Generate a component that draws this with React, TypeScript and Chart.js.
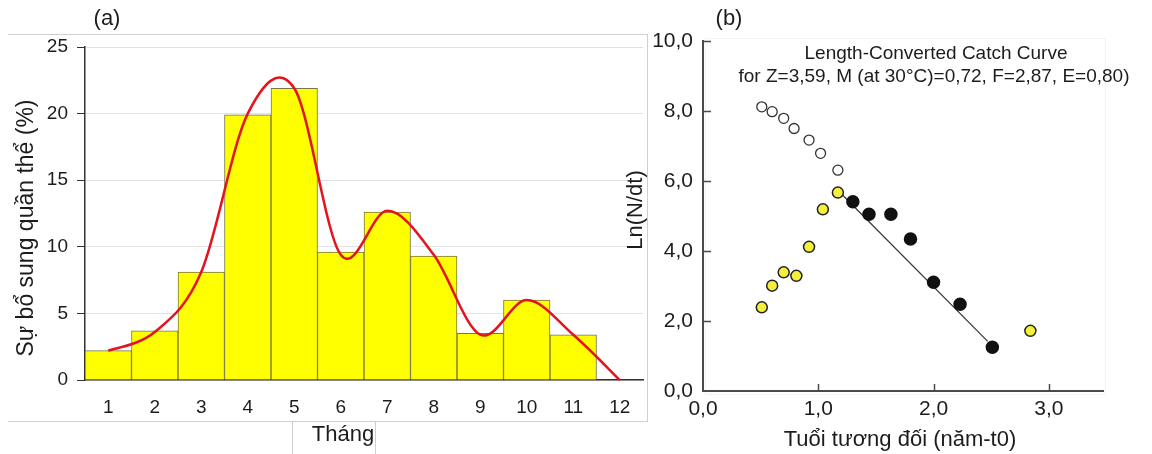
import React, { useEffect, useRef } from 'react';
import { Chart, registerables } from 'chart.js';

Chart.register(...registerables);

// ---------- Panel (a) data ----------
const months = ['1', '2', '3', '4', '5', '6', '7', '8', '9', '10', '11', '12'];
const recruitmentPct = [2.2, 3.7, 8.1, 19.9, 21.9, 9.6, 12.6, 9.3, 3.5, 6.0, 3.4, null];
const smoothCurvePct = [2.2, 3.6, 8.1, 20.0, 21.9, 9.4, 12.7, 9.4, 3.4, 6.0, 3.4, 0];

// ---------- Panel (b) data ----------
const openAge = [0.51, 0.6, 0.7, 0.79, 0.92, 1.02, 1.17];
const openLn = [8.12, 7.98, 7.79, 7.5, 7.17, 6.79, 6.31];
const yellowAge = [0.51, 0.6, 0.7, 0.81, 0.92, 1.04, 1.17, 2.84];
const yellowLn = [2.39, 3.01, 3.39, 3.29, 4.12, 5.19, 5.67, 1.72];
const blackAge = [1.3, 1.44, 1.63, 1.8, 2.0, 2.23, 2.51];
const blackLn = [5.41, 5.05, 5.05, 4.34, 3.11, 2.48, 1.25];
const regAge = [1.18, 2.47];
const regLn = [5.7, 1.42];

const titleB1 = 'Length-Converted Catch Curve';
const titleB2 = 'for Z=3,59, M (at 30°C)=0,72, F=2,87, E=0,80)';

const FONT = "'Liberation Sans', Arial, Helvetica, sans-serif";
const TXT = '#1c1c1c';
const B_OFFSET = 600;

const pts = (xs: number[], ys: number[]) => xs.map((x, i) => ({ x, y: ys[i] }));
const comma1 = (v: any) => Number(v).toFixed(1).replace('.', ',');

// Excel-like (Catmull-Rom) smooth curve through the line dataset's points
const catmullRomPlugin = {
  id: 'catmullRom',
  afterDatasetsDraw(chart: any) {
    const meta = chart.getDatasetMeta(1);
    const p = meta.data.map((e: any) => ({ x: e.x, y: e.y }));
    if (p.length < 2) return;
    const ctx = chart.ctx;
    ctx.save();
    ctx.beginPath();
    ctx.moveTo(p[0].x, p[0].y);
    for (let i = 0; i < p.length - 1; i++) {
      const p0 = p[i - 1] || p[i];
      const p1 = p[i];
      const p2 = p[i + 1];
      const p3 = p[i + 2] || p[i + 1];
      ctx.bezierCurveTo(
        p1.x + (p2.x - p0.x) / 6, p1.y + (p2.y - p0.y) / 6,
        p2.x - (p3.x - p1.x) / 6, p2.y - (p3.y - p1.y) / 6,
        p2.x, p2.y
      );
    }
    ctx.strokeStyle = '#e3141d';
    ctx.lineWidth = 2.5;
    ctx.lineJoin = 'round';
    ctx.stroke();
    ctx.restore();
  },
};

const decorA = {
  id: 'decorA',
  beforeDraw(chart: any) {
    const ctx = chart.ctx;
    ctx.save();
    ctx.strokeStyle = '#cfcfcf';
    ctx.lineWidth = 1;
    ctx.beginPath();
    ctx.moveTo(8, 34.5); ctx.lineTo(648, 34.5);
    ctx.moveTo(647.5, 34); ctx.lineTo(647.5, 421);
    ctx.moveTo(8, 421.5); ctx.lineTo(648, 421.5);
    ctx.moveTo(292.5, 421); ctx.lineTo(292.5, 454);
    ctx.moveTo(375.5, 421); ctx.lineTo(375.5, 454);
    ctx.stroke();
    ctx.restore();
  },
  afterDraw(chart: any) {
    const ctx = chart.ctx;
    ctx.save();
    ctx.fillStyle = TXT;
    ctx.font = `22px ${FONT}`;
    ctx.textAlign = 'center';
    ctx.textBaseline = 'alphabetic';
    ctx.fillText('(a)', 107, 25);
    ctx.fillText('Tháng', 343, 441);
    ctx.font = `23px ${FONT}`;
    ctx.translate(33, 228);
    ctx.rotate(-Math.PI / 2);
    ctx.fillText('Sự bổ sung quần thể (%)', 0, 0);
    ctx.restore();
  },
};

const decorB = {
  id: 'decorB',
  beforeDraw(chart: any) {
    const ctx = chart.ctx;
    ctx.save();
    ctx.strokeStyle = '#f3f3f3';
    ctx.lineWidth = 1;
    ctx.strokeRect(705 - B_OFFSET + 0.5, 38.5, 400, 356);
    ctx.restore();
  },
  afterDraw(chart: any) {
    const ctx = chart.ctx;
    const xs = chart.scales.x;
    const ys = chart.scales.y;
    const area = chart.chartArea;
    ctx.save();
    // inward tick marks
    ctx.strokeStyle = '#4a4a4a';
    ctx.lineWidth = 1.5;
    ctx.beginPath();
    ys.ticks.forEach((t: any) => {
      if (t.value === 0) return;
      const y = Math.round(ys.getPixelForValue(t.value)) + 0.5;
      ctx.moveTo(area.left, y);
      ctx.lineTo(area.left + 8, y);
    });
    xs.ticks.forEach((t: any) => {
      if (t.value === 0) return;
      const x = Math.round(xs.getPixelForValue(t.value)) + 0.5;
      ctx.moveTo(x, area.bottom);
      ctx.lineTo(x, area.bottom - 7);
    });
    ctx.stroke();

    ctx.fillStyle = TXT;
    ctx.textAlign = 'center';
    ctx.textBaseline = 'alphabetic';
    ctx.font = `22px ${FONT}`;
    ctx.fillText('(b)', 729 - B_OFFSET, 25);
    ctx.fillText('Tuổi tương đối (năm-t0)', 900 - B_OFFSET, 446);
    ctx.font = `19px ${FONT}`;
    ctx.fillText(titleB1, 936 - B_OFFSET, 59);
    ctx.fillText(titleB2, 934 - B_OFFSET, 82);
    ctx.font = `22px ${FONT}`;
    ctx.translate(642 - B_OFFSET, 210);
    ctx.rotate(-Math.PI / 2);
    ctx.fillText('Ln(N/dt)', 0, 0);
    ctx.restore();
  },
};

export default function App() {
  const refA = useRef<HTMLCanvasElement>(null);
  const refB = useRef<HTMLCanvasElement>(null);

  useEffect(() => {
    const chartA = new Chart(refA.current as HTMLCanvasElement, {
      type: 'bar',
      data: {
        labels: months,
        datasets: [
          {
            type: 'bar',
            data: recruitmentPct as any,
            backgroundColor: '#ffff00',
            borderColor: '#77773f',
            borderWidth: 1,
            barPercentage: 1,
            categoryPercentage: 1,
          },
          {
            type: 'line',
            data: smoothCurvePct as any,
            showLine: false,
            pointRadius: 0,
            borderColor: '#e3141d',
          } as any,
        ],
      },
      options: {
        responsive: false,
        animation: false,
        devicePixelRatio: 1,
        layout: { padding: { left: 0, right: 7, top: 47, bottom: 0 } },
        plugins: { legend: { display: false }, tooltip: { enabled: false } },
        scales: {
          x: {
            type: 'category',
            offset: true,
            grid: { display: true, drawOnChartArea: false, drawTicks: false, color: 'rgba(0,0,0,0)' },
            border: { display: true, color: '#333333', width: 1.5 },
            ticks: { font: { size: 19, family: FONT }, color: TXT, padding: 16, maxRotation: 0, autoSkip: false },
            afterFit: (s: any) => { s.height = 74; },
          },
          y: {
            min: 0,
            max: 25,
            ticks: { stepSize: 5, font: { size: 19, family: FONT }, color: TXT, padding: 9 },
            grid: { color: '#e2e2e2', tickColor: '#333333', tickLength: 8, lineWidth: 1 },
            border: { display: true, color: '#333333', width: 1.5 },
            afterFit: (s: any) => { s.width = 85; },
          },
        },
      },
      plugins: [decorA, catmullRomPlugin],
    });

    const chartB = new Chart(refB.current as HTMLCanvasElement, {
      type: 'scatter',
      data: {
        datasets: [
          {
            data: pts(blackAge, blackLn),
            backgroundColor: '#111111',
            borderColor: '#111111',
            borderWidth: 1.5,
            pointRadius: 6,
          },
          {
            data: pts(yellowAge, yellowLn),
            backgroundColor: '#f3ef3c',
            borderColor: '#222222',
            borderWidth: 1.5,
            pointRadius: 5.5,
          },
          {
            data: pts(openAge, openLn),
            backgroundColor: '#ffffff',
            borderColor: '#333333',
            borderWidth: 1.3,
            pointRadius: 5,
          },
          {
            type: 'line',
            data: pts(regAge, regLn),
            borderColor: '#333333',
            borderWidth: 1.2,
            pointRadius: 0,
            showLine: true,
            fill: false,
          } as any,
        ],
      },
      options: {
        responsive: false,
        animation: false,
        devicePixelRatio: 1,
        layout: { padding: { left: 0, right: 49, top: 41, bottom: 0 } },
        plugins: { legend: { display: false }, tooltip: { enabled: false } },
        scales: {
          x: {
            type: 'linear',
            min: 0,
            max: 3.47,
            ticks: { stepSize: 1, includeBounds: false, callback: comma1, font: { size: 21, family: FONT }, color: TXT, padding: 6, maxRotation: 0 },
            grid: { display: true, drawOnChartArea: false, drawTicks: false, color: 'rgba(0,0,0,0)' },
            border: { display: true, color: '#4a4a4a', width: 2 },
            afterFit: (s: any) => { s.height = 63; },
          },
          y: {
            min: 0,
            max: 10,
            ticks: { stepSize: 2, includeBounds: false, callback: comma1, font: { size: 21, family: FONT }, color: TXT, padding: 10 },
            grid: { display: true, drawOnChartArea: false, drawTicks: false, color: 'rgba(0,0,0,0)' },
            border: { display: true, color: '#4a4a4a', width: 2 },
            afterFit: (s: any) => { s.width = 103; },
          },
        },
      },
      plugins: [decorB],
    });

    return () => {
      chartA.destroy();
      chartB.destroy();
    };
  }, []);

  return (
    <div style={{ position: 'absolute', left: 0, top: 0, width: 1152, height: 454, background: '#ffffff', overflow: 'hidden' }}>
      <canvas ref={refA} width={650} height={454} style={{ position: 'absolute', left: 0, top: 0 }} />
      <canvas ref={refB} width={552} height={454} style={{ position: 'absolute', left: B_OFFSET, top: 0 }} />
    </div>
  );
}
